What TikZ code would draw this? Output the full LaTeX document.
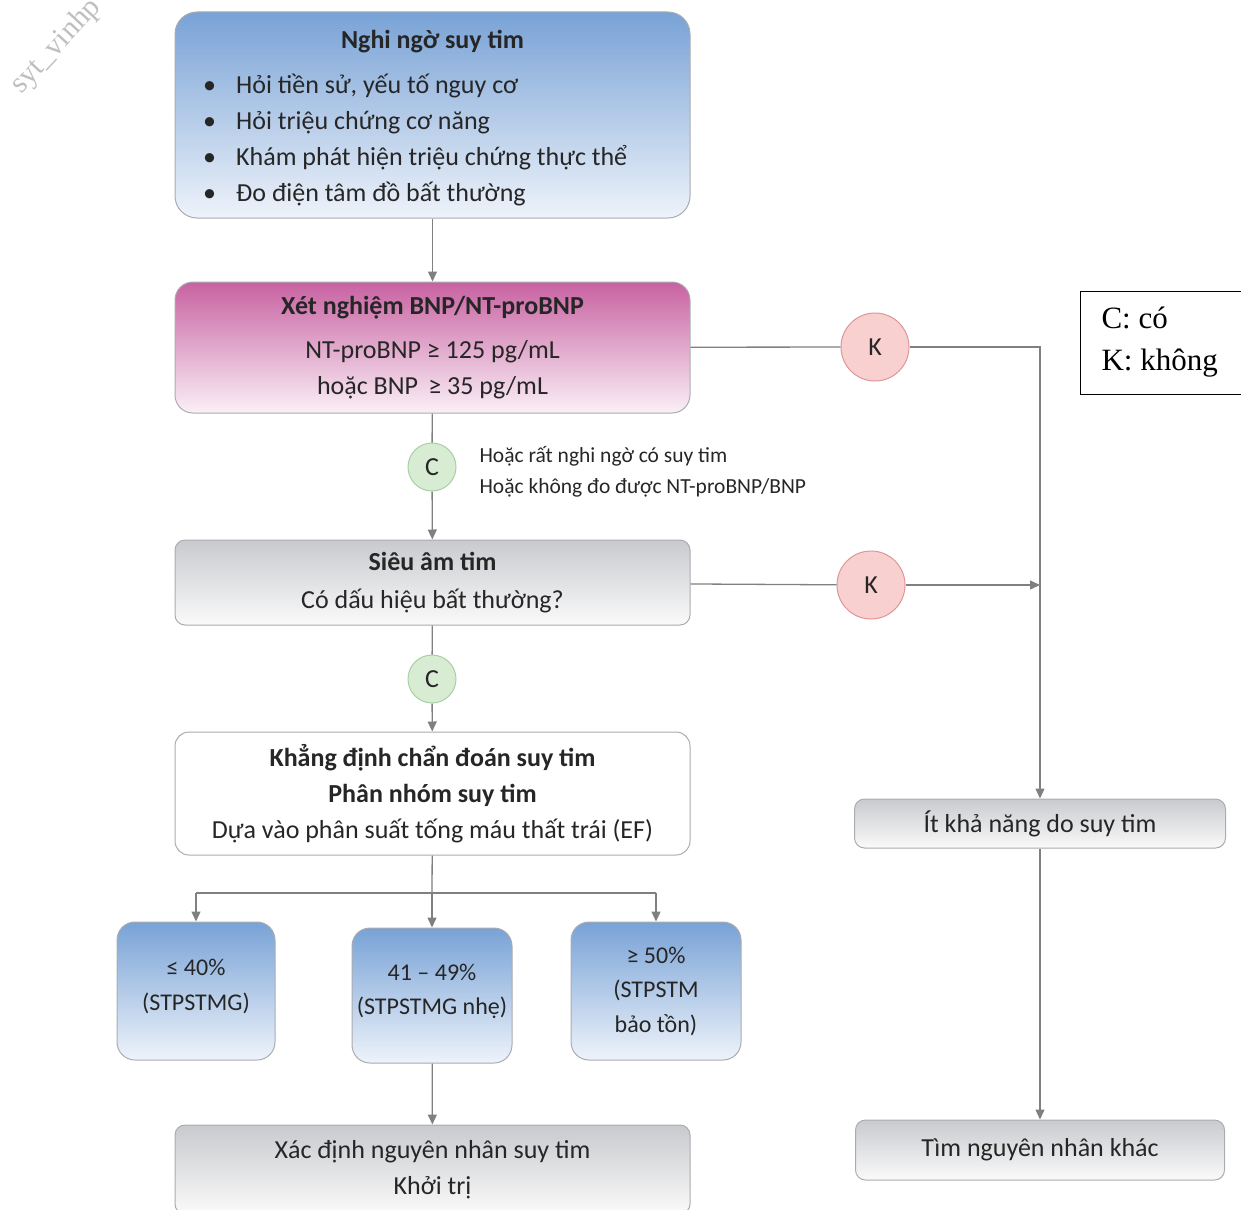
\documentclass[tikz,border=0pt]{standalone}
\usepackage{fontspec}
\setmainfont{Carlito}
\newfontfamily\legendfont{Liberation Serif}
\usetikzlibrary{arrows.meta}
\definecolor{linegrey}{RGB}{128,128,128}
\definecolor{cardgrey}{RGB}{170,172,176}
\definecolor{blueTop}{RGB}{120,162,214}
\definecolor{blueLow}{RGB}{238,243,250}
\definecolor{pinkTop}{RGB}{200,98,162}
\definecolor{pinkLow}{RGB}{250,240,246}
\definecolor{greyTop}{RGB}{200,202,206}
\definecolor{greyLow}{RGB}{250,250,250}
\definecolor{noFill}{RGB}{248,208,208}
\definecolor{noLine}{RGB}{222,150,150}
\definecolor{yesFill}{RGB}{216,236,212}
\definecolor{yesLine}{RGB}{168,208,164}

\begin{document}
\begin{tikzpicture}[x=1pt, y=-1pt,
    font=\fontsize{26}{36}\selectfont, text=black!85,
    link/.style={draw=linegrey, line width=1.3pt},
    arr/.style={link, -{Triangle[width=9pt,length=10pt]}},
    card/.style={draw=cardgrey, line width=1pt, rounded corners=10pt,
                 align=center, inner sep=0pt},
    bluecard/.style={card, top color=blueTop, bottom color=blueLow, rounded corners=22pt},
    pinkcard/.style={card, top color=pinkTop, bottom color=pinkLow, rounded corners=18pt},
    greycard/.style={card, top color=greyTop, bottom color=greyLow},
    whitecard/.style={card, fill=white, rounded corners=14pt},
    efcard/.style={bluecard, rounded corners=18pt, font=\fontsize{24}{34.5}\selectfont},
    nocircle/.style={circle, draw=noLine, fill=noFill, line width=1pt,
                     minimum size=68, inner sep=0pt},
    yescircle/.style={circle, draw=yesLine, fill=yesFill, line width=1pt,
                      minimum size=48, inner sep=0pt}
                    ]
    \useasboundingbox (0,0) rectangle (1241,1209);
    % watermark
    \node[anchor=south west, rotate=47, text=black!25,
          font=\legendfont\fontsize{30}{30}\selectfont] (mark) at (26,104) {syt\_vinhp};

    % left column
    \node[bluecard, minimum width=515, minimum height=206] (nghi) at (432.5,115) {};
    \node[font=\bfseries\fontsize{26}{36}\selectfont] (nghititle) at (432.5,42) {Nghi ngờ suy tim};
    \node[anchor=west, align=left, inner sep=0pt, font=\fontsize{26}{35.7}\selectfont]
        (nghilist) at (203,140)
        {\makebox[33pt][l]{•}Hỏi tiền sử, yếu tố nguy cơ\\
         \makebox[33pt][l]{•}Hỏi triệu chứng cơ năng\\
         \makebox[33pt][l]{•}Khám phát hiện triệu chứng thực thể\\
         \makebox[33pt][l]{•}Đo điện tâm đồ bất thường};
    \node[pinkcard, minimum width=515, minimum height=131] (xet) at (432.5,347.5)
        {\textbf{Xét nghiệm BNP/NT-proBNP}\\[8pt]
         NT-proBNP ≥ 125 pg/mL\\ hoặc BNP\, ≥ 35 pg/mL};
    \node[yescircle] (c1) at (432,467) {C};
    \node[anchor=west, align=left, font=\fontsize{21.5}{31}\selectfont] (c1note) at (476,472)
        {Hoặc rất nghi ngờ có suy tim\\ Hoặc không đo được NT-proBNP/BNP};
    \node[greycard, minimum width=515, minimum height=85] (sieuam) at (432.5,582.5)
        {\textbf{Siêu âm tim}\\[2pt] Có dấu hiệu bất thường?};
    \node[yescircle] (c2) at (432,679) {C};
    \node[whitecard, minimum width=515, minimum height=123] (khangdinh) at (432.5,793.5)
        {\textbf{Khẳng định chẩn đoán suy tim}\\ \textbf{Phân nhóm suy tim}\\
         Dựa vào phân suất tống máu thất trái (EF)};
    \node[efcard, minimum width=158, minimum height=138] (ef1) at (196,991)
        {≤ 40\%\\ (STPSTMG)\\[-22pt]};
    \node[efcard, minimum width=160, minimum height=135] (ef2) at (432,995.5)
        {41 – 49\%\\ (STPSTMG nhẹ)\\[-22pt]};
    \node[efcard, minimum width=170, minimum height=138] (ef3) at (656,991)
        {≥ 50\%\\ (STPSTM\\ bảo tồn)};
    \node[greycard, minimum width=515, minimum height=89] (xacdinh) at (432.5,1169.5)
        {Xác định nguyên nhân suy tim\\ Khởi trị};

    % right column
    \node[nocircle] (k1) at (875,347) {K};
    \node[nocircle] (k2) at (871,585) {K};
    \node[greycard, minimum width=371, minimum height=49] (itkha) at (1040,823.5)
        {Ít khả năng do suy tim};
    \node[greycard, minimum width=369, minimum height=60] (timnn) at (1040,1150)
        {Tìm nguyên nhân khác};
    \node[draw=black, line width=1pt, anchor=north west, minimum width=164,
          minimum height=103] (legend) at (1080,291) {};
    \node[anchor=west, align=left, text=black,
          font=\legendfont\fontsize{31}{42}\selectfont] (legendtext) at (1098,342)
        {C: có\\ K: không};

    \coordinate (split) at (432,893);
    \coordinate (s1) at (196,893);
    \coordinate (s3) at (656,893);

    % connectors
    \draw[arr] (nghi) -- (xet);
    \draw[link] (xet) -- (c1);
    \draw[arr] (c1) -- (sieuam);
    \draw[link] (xet) -- (k1);
    \draw[arr] (k1) -| (itkha);
    \draw[link] (sieuam) -- (k2);
    \draw[arr] (k2) -- (k2 -| itkha);
    \draw[link] (sieuam) -- (c2);
    \draw[arr] (c2) -- (khangdinh);
    \draw[link] (khangdinh) -- (split);
    \draw[link] (s1) -- (s3);
    \draw[arr] (s1) -- (ef1);
    \draw[arr] (split) -- (ef2);
    \draw[arr] (s3) -- (ef3);
    \draw[arr] (ef2) -- (xacdinh);
    \draw[arr] (itkha) -- (timnn);
\end{tikzpicture}
\end{document}
